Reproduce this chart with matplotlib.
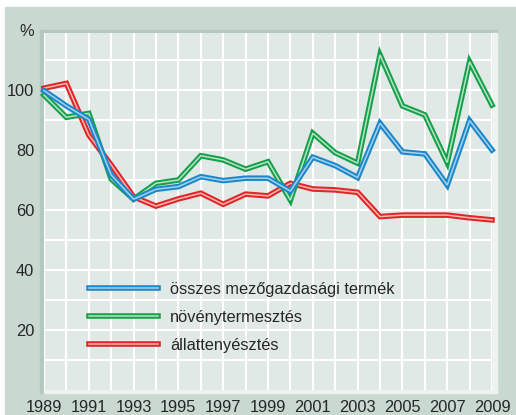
import numpy as np
import matplotlib
matplotlib.use("Agg")
import matplotlib.pyplot as plt
import matplotlib.patheffects as pe
from matplotlib.patches import Rectangle

plt.rcParams['font.family'] = ['Liberation Sans', 'DejaVu Sans']

years = np.arange(1989, 2010)
osszes = [99.8, 94.7, 90.2, 71.7, 63.6, 66.9, 67.8, 71.1, 69.8, 70.6, 70.6,
          66.3, 77.6, 74.8, 70.8, 88.9, 79.4, 78.7, 68.3, 89.8, 80.0]
noveny = [98.3, 90.9, 92.2, 70.3, 63.6, 68.9, 70.0, 78.1, 76.7, 73.6, 76.1,
          63.3, 85.6, 79.1, 75.6, 111.7, 94.7, 91.7, 75.8, 109.4, 95.0]
allat = [100.6, 102.2, 85.0, 75.0, 64.4, 61.3, 63.7, 65.6, 61.9, 65.3, 64.7,
         68.9, 67.0, 66.7, 65.9, 57.8, 58.3, 58.3, 58.3, 57.4, 56.7]
labels = ['összes mezőgazdasági termék', 'növénytermesztés', 'állattenyésztés']
x_ticks = list(range(1989, 2010, 2))
y_ticks = [20, 40, 60, 80, 100]

W, H = 516, 415
FS = 11.8
TXT = '#262626'
fig = plt.figure(figsize=(W / 100, H / 100), dpi=100)
fig.patch.set_facecolor('white')

def fr(x0, y0, x1, y1, color):
    # rectangle in pixel coords (top-left origin)
    fig.patches.append(Rectangle((x0 / W, 1 - y1 / H), (x1 - x0) / W, (y1 - y0) / H,
                                 transform=fig.transFigure, color=color, zorder=-5))

fr(5, 7, 516, 415, '#c9d9d2')
fr(40, 30, 497, 33, '#b4c8c0')
fr(40, 30, 44, 393, '#b4c8c0')
fr(492, 33, 497, 393, '#eef3f1')
fr(44, 390, 497, 393, '#eef3f1')

ax = fig.add_axes([44 / W, 1 - 390 / H, (492 - 44) / W, (390 - 33) / H])
ax.set_zorder(2)
ax.set_facecolor('#e1e9e6')
for s in ax.spines.values():
    s.set_visible(False)

ax.set_xlim(1989, 2009)
ax.set_ylim(0, 119)
ax.set_xticks(years, minor=True)
ax.set_xticks(x_ticks)
ax.set_yticks(np.arange(10, 120, 10), minor=True)
ax.set_yticks(y_ticks)
ax.grid(True, which='both', color='white', lw=1.5)
ax.set_axisbelow(True)
ax.tick_params(which='both', length=0)
ax.tick_params(axis='y', pad=7, labelsize=FS, labelcolor=TXT)
ax.tick_params(axis='x', pad=7, labelsize=FS, labelcolor=TXT)
fig.text(34 / W, 1 - 31 / H, '%', ha='right', va='center', fontsize=FS, color=TXT)

series = [(allat, '#e2242b', '#f8b8aa', labels[2]),
          (noveny, '#15a04b', '#b8e2c4', labels[1]),
          (osszes, '#1c88c9', '#a2d2ef', labels[0])]
handles = {}
for vals, c, ci, lab in series:
    ln, = ax.plot(years, vals, color=ci, lw=1.1, label=lab, clip_on=False,
                  solid_joinstyle='miter',
                  path_effects=[pe.Stroke(linewidth=4.0, foreground=c), pe.Normal()])
    handles[lab] = ln

leg = ax.legend([handles[l] for l in labels], labels, loc='center left',
                bbox_to_anchor=(89 / W, 1 - 317.5 / H), bbox_transform=fig.transFigure,
                frameon=False, fontsize=FS, handlelength=4.2, handletextpad=0.75,
                labelspacing=0.8, borderpad=0, borderaxespad=0)
for t in leg.get_texts():
    t.set_color(TXT)

fig.savefig('out.png', dpi=100)
